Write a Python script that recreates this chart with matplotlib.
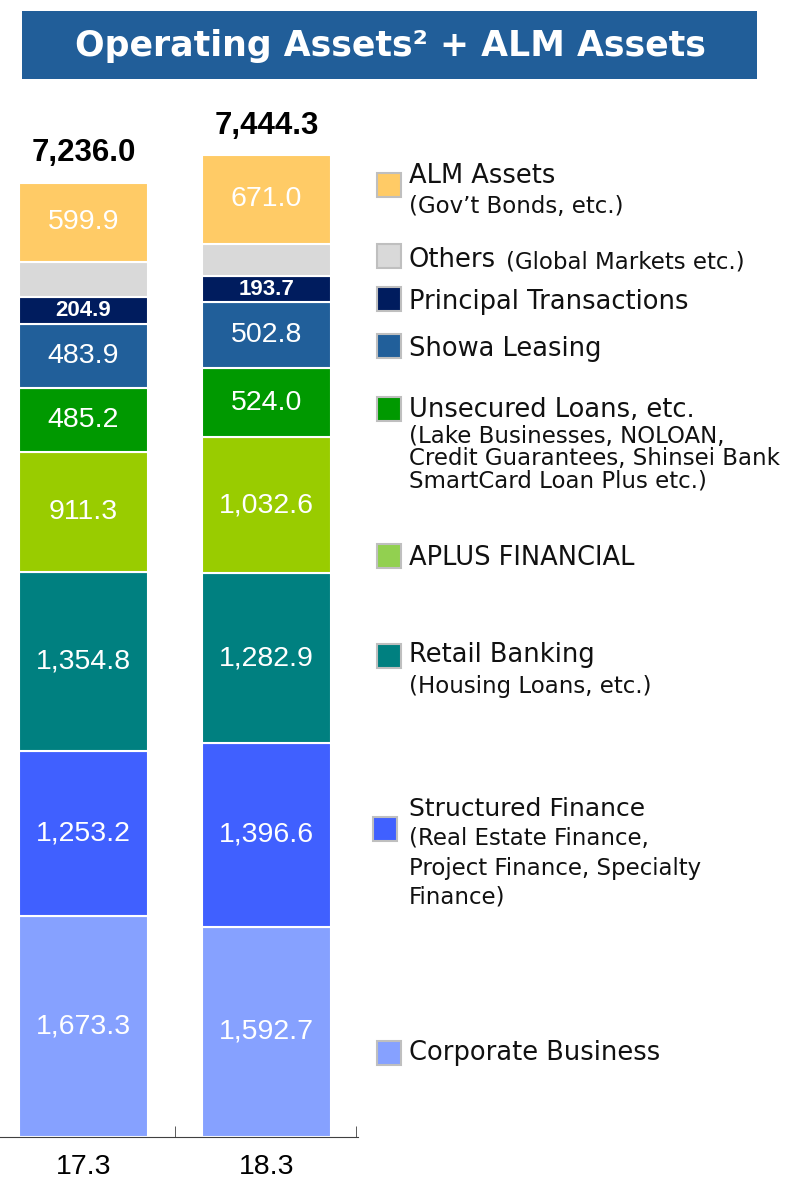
import matplotlib.pyplot as plt
from matplotlib.patches import Rectangle

# data, bottom to top
periods = ['17.3', '18.3']
segments = ['Corporate Business', 'Structured Finance', 'Retail Banking', 'APLUS FINANCIAL',
            'Unsecured Loans', 'Showa Leasing', 'Principal Transactions', 'Others', 'ALM Assets']
corporate = [1673.3, 1592.7]
structured = [1253.2, 1396.6]
retail = [1354.8, 1282.9]
aplus = [911.3, 1032.6]
unsecured = [485.2, 524.0]
showa = [483.9, 502.8]
principal = [204.9, 193.7]
others = [269.5, 248.0]   # not labelled, = total minus the rest
alm = [599.9, 671.0]
totals = [7236.0, 7444.3]

series = [corporate, structured, retail, aplus, unsecured, showa, principal, others, alm]
bar_colors = ['#86A1FF', '#4060FF', '#008080', '#99CC00', '#009900',
              '#215F9A', '#001C5E', '#D9D9D9', '#FFCB66']

W, H = 791, 1178
fig = plt.figure(figsize=(W / 100, H / 100), dpi=100)

def fx(px):
    return px / W

def fy(py):
    return 1 - py / H

# title banner
fig.patches.append(Rectangle((fx(22), fy(79)), fx(735), 68 / H, transform=fig.transFigure,
                             facecolor='#215E99', edgecolor='none'))
fig.text(fx(390), fy(46), 'Operating Assets² + ALM Assets', color='white', fontsize=25,
         fontweight='bold', ha='center', va='center', family='DejaVu Sans')

# chart
ax = fig.add_axes([0, fy(1137), fx(358), (1137 - 100) / H])
x = [0, 1]
bottom = [0, 0]
for vals, col, name in zip(series, bar_colors, segments):
    bars = ax.bar(x, vals, width=0.705, bottom=bottom, color=col, edgecolor='white', linewidth=1.5)
    for i, b in enumerate(bars):
        yc = bottom[i] + vals[i] / 2
        if name == 'Others':
            continue
        if name == 'Principal Transactions':
            ax.text(x[i], yc, f'{vals[i]:,.1f}', color='white', fontsize=16, fontweight='bold',
                    ha='center', va='center', family='Liberation Sans')
        else:
            ax.text(x[i], yc, f'{vals[i]:,.1f}', color='white', fontsize=20.5,
                    ha='center', va='center', family='Liberation Sans')
    bottom = [bottom[i] + vals[i] for i in range(2)]

for i in range(2):
    ax.annotate(f'{totals[i]:,.1f}', (x[i], bottom[i]), xytext=(0, 21), textcoords='offset points',
                ha='center', va='center', fontsize=22.5, fontweight='bold', family='Liberation Sans')

ax.set_xlim(-0.5 + 8 / 183, 1.5)
ax.set_ylim(0, (1137 - 100) / 0.1319)
for s in ['left', 'right', 'top']:
    ax.spines[s].set_visible(False)
ax.spines['bottom'].set_color('#404040')
ax.set_yticks([])
ax.set_xticks(x)
ax.set_xticklabels(periods, fontsize=20.5, family='Liberation Sans')
ax.tick_params(axis='x', which='major', length=0, pad=12)
ax.set_xticks([0.5, 1.49], minor=True)
ax.tick_params(axis='x', which='minor', direction='in', length=8, color='#404040')
ax.patch.set_alpha(0)

# legend, drawn by hand
legend = [
    # colour, patch centre y, patch x, lines (text, size, y)
    ('#FFCB66', 185, 377, [('ALM Assets', 18.5, 176), ("(Gov’t Bonds, etc.)", 16.5, 207)]),
    ('#D9D9D9', 256, 377, [('Others', 18.5, 260)]),
    ('#001C5E', 299, 377, [('Principal Transactions', 18.5, 302)]),
    ('#215F9A', 346, 377, [('Showa Leasing', 18.5, 349)]),
    ('#009900', 409, 377, [('Unsecured Loans, etc.', 18.5, 410),
                           ('(Lake Businesses, NOLOAN,', 16.5, 437),
                           ('Credit Guarantees, Shinsei Bank', 16.5, 459),
                           ('SmartCard Loan Plus etc.)', 16.5, 481)]),
    ('#92D050', 556, 377, [('APLUS FINANCIAL', 18.5, 558)]),
    ('#008080', 656, 377, [('Retail Banking', 18.5, 655), ('(Housing Loans, etc.)', 16.5, 686)]),
    ('#4060FF', 829, 373, [('Structured Finance', 18, 809), ('(Real Estate Finance,', 16.5, 839),
                           ('Project Finance, Specialty', 16.5, 868), ('Finance)', 16.5, 897)]),
    ('#86A1FF', 1053, 377, [('Corporate Business', 18.5, 1053)]),
]
for col, yc, px, lines in legend:
    fig.patches.append(Rectangle((fx(px), fy(yc + 12)), fx(24), 24 / H, transform=fig.transFigure,
                                 facecolor=col, edgecolor='#BFBFBF', linewidth=1.5))
    for txt, size, ty in lines:
        fig.text(fx(409), fy(ty), txt, fontsize=size, ha='left', va='center',
                 family='DejaVu Sans', color='#111111')
fig.text(fx(506), fy(262), '(Global Markets etc.)', fontsize=16.5, ha='left', va='center',
         family='DejaVu Sans', color='#111111')

fig.savefig('out.png', dpi=100)
